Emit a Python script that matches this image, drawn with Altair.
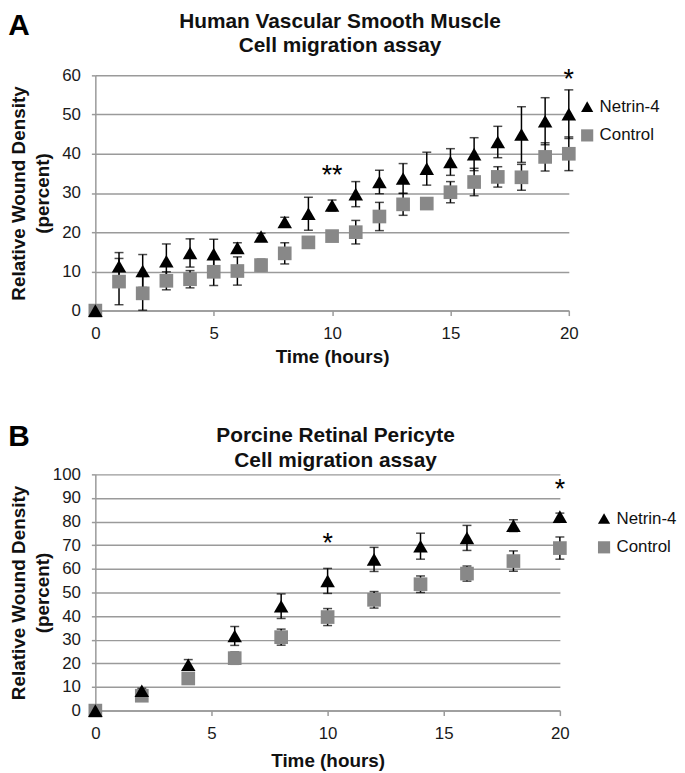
import altair as alt
import pandas as pd

# ---------------- data ----------------
series_names = ["Netrin-4", "Control"]

a_time = list(range(0, 21))
a_netrin = [0, 11.3, 10.1, 12.6, 14.7, 14.4, 16.0, 18.9, 22.6, 24.7, 26.8,
            29.7, 32.8, 33.7, 36.2, 37.9, 39.9, 43.0, 44.9, 48.3, 50.1]
a_netrin_err = [0, 3.5, 4.2, 4.4, 3.6, 3.8, 1.3, 0.8, 1.2, 4.2, 1.4,
                3.2, 3.0, 3.8, 4.2, 3.4, 4.2, 4.0, 7.1, 6.0, 6.2]
a_control = [0, 7.4, 4.4, 7.6, 8.0, 9.9, 10.1, 11.6, 14.6, 17.4, 19.0,
             20.0, 24.0, 27.1, 27.3, 30.2, 32.8, 34.1, 34.0, 39.2, 40.0]
a_control_err = [0, 5.9, 4.3, 2.3, 2.2, 3.5, 3.6, 1.5, 2.7, 0.5, 0.5,
                 3.0, 3.6, 2.8, 1.0, 2.7, 3.5, 2.6, 3.3, 3.6, 4.3]

b_time = [0, 2, 4, 6, 8, 10, 12, 14, 16, 18, 20]
b_netrin = [0, 8.4, 19.4, 31.6, 44.2, 54.9, 64.0, 69.6, 73.1, 78.3, 82.1]
b_netrin_err = [0, 1.0, 2.2, 4.0, 5.2, 5.3, 5.1, 5.5, 5.3, 2.5, 1.5]
b_control = [0, 6.3, 13.6, 22.2, 31.1, 39.6, 46.9, 53.5, 58.0, 63.3, 68.8]
b_control_err = [0, 0.8, 0.8, 2.6, 3.4, 3.6, 3.5, 3.5, 3.2, 4.3, 4.7]

a_stars_time = [10, 20]
a_stars_y = [35.2, 59.7]
a_stars_text = ["**", "*"]
b_stars_time = [10, 20]
b_stars_y = [72.0, 95.0]
b_stars_text = ["*", "*"]

a_title = ["Human Vascular Smooth Muscle", "Cell migration assay"]
b_title = ["Porcine Retinal Pericyte", "Cell migration assay"]
y_title = ["Relative Wound Density", "(percent)"]
x_title = "Time (hours)"

FONT = "Liberation Sans"
GRID = "#9a9a9a"
CTRL = "#888888"


def frame(time, s1, e1, s2, e2):
    rows = []
    for t, m, e in zip(time, s1, e1):
        rows.append({"time": t, "mean": m, "err": e, "series": "Netrin-4"})
    for t, m, e in zip(time, s2, e2):
        rows.append({"time": t, "mean": m, "err": e, "series": "Control"})
    df = pd.DataFrame(rows)
    df["lo"] = df["mean"] - df["err"]
    df["hi"] = df["mean"] + df["err"]
    return df


def panel(df, stars, letter, title, ymax, w, h, lx, ly, letter_y, t1y, t2y, xtp):
    xaxis = alt.Axis(values=[0, 5, 10, 15, 20], grid=False, title=x_title,
                     domainColor=GRID, domainWidth=1.5, tickColor=GRID,
                     tickWidth=1.5, tickSize=5, labelPadding=10, labelFlush=False,
                     labelFontSize=17, labelFont=FONT, labelColor="#1a1a1a",
                     titleFontSize=19, titleFont=FONT, titleFontWeight="bold",
                     titlePadding=xtp, titleColor="#111")
    xscale = alt.Scale(domain=[0, 20], nice=False)
    yaxis = alt.Axis(values=list(range(0, ymax + 1, 10)), grid=True,
                     gridColor=GRID, gridWidth=1.5, domainColor=GRID,
                     domainWidth=1.5, tickColor=GRID, tickWidth=1.5,
                     tickSize=4, labelPadding=11, labelFontSize=17,
                     labelFont=FONT, labelColor="#1a1a1a", title=y_title,
                     titleFontSize=19, titleFont=FONT, titleFontWeight="bold",
                     titleColor="#111", titleLineHeight=24, labelOverlap=False,
                     titleX=-77, titleY=h / 2, titleBaseline="middle")
    yscale = alt.Scale(domain=[0, ymax], nice=False)

    def X():
        return alt.X("time:Q", scale=xscale, axis=xaxis)

    def Y(field):
        return alt.Y(field + ":Q", scale=yscale, axis=yaxis)

    leg = alt.Legend(title=None, orient="none", legendX=lx, legendY=ly,
                     labelFontSize=17, labelFont=FONT, labelColor="#111",
                     symbolSize=150, symbolStrokeWidth=0, rowPadding=11,
                     labelOffset=4, padding=0)
    color = alt.Color("series:N", scale=alt.Scale(domain=series_names,
                                                  range=["black", CTRL]), legend=leg)
    shape = alt.Shape("series:N", scale=alt.Scale(domain=series_names,
                                                  range=["triangle-up", "square"]),
                      legend=leg)

    base = alt.Chart(df)
    net = base.transform_filter(alt.datum.series == "Netrin-4")
    ctl = base.transform_filter(alt.datum.series == "Control")

    def errs(src):
        r = src.mark_rule(color="black", strokeWidth=1.5).encode(
            x=X(), y=Y("lo"), y2="hi:Q")
        c1 = src.mark_tick(color="black", orient="horizontal", size=9,
                           thickness=1.5).encode(x=X(), y=Y("hi"))
        c2 = src.mark_tick(color="black", orient="horizontal", size=9,
                           thickness=1.5).encode(x=X(), y=Y("lo"))
        return r + c1 + c2

    def pts(src, size):
        return src.mark_point(filled=True, opacity=1, size=size, strokeWidth=0).encode(
            x=X(), y=Y("mean"), color=color, shape=shape)

    star = alt.Chart(stars).mark_text(fontSize=27, font=FONT, color="black",
                                      baseline="alphabetic", dy=12).encode(
        x=X(), y=Y("y"), text="text:N")

    one = pd.DataFrame({"k": [0]})
    lab = alt.Chart(one).mark_text(
        fontSize=30, fontWeight="bold", font=FONT, color="black",
        align="center", baseline="middle").encode(
        text=alt.value(letter), x=alt.value(-77), y=alt.value(letter_y))
    tl1 = alt.Chart(one).mark_text(
        fontSize=21, fontWeight="bold", font=FONT, color="#111",
        align="center", baseline="middle").encode(
        text=alt.value(title[0]), x=alt.value(w / 2 + 8), y=alt.value(t1y))
    tl2 = alt.Chart(one).mark_text(
        fontSize=21, fontWeight="bold", font=FONT, color="#111",
        align="center", baseline="middle").encode(
        text=alt.value(title[1]), x=alt.value(w / 2 + 8), y=alt.value(t2y))

    layer = alt.layer(
        errs(net), errs(ctl), pts(ctl, 190), pts(net, 215), star, lab, tl1, tl2
    ).properties(width=w, height=h)
    return layer


dfa = frame(a_time, a_netrin, a_netrin_err, a_control, a_control_err)
dfb = frame(b_time, b_netrin, b_netrin_err, b_control, b_control_err)
sa = pd.DataFrame({"time": a_stars_time, "y": a_stars_y, "text": a_stars_text})
sb = pd.DataFrame({"time": b_stars_time, "y": b_stars_y, "text": b_stars_text})

pa = panel(dfa, sa, "A", a_title, 60, 477, 237, 487, 23, -50, -54, -30, 6)
pb = panel(dfb, sb, "B", b_title, 100, 468, 238, 504, 36, -38, -39, -13, 10)

chart = alt.vconcat(pa, pb, spacing=56).resolve_scale(
    color="independent", shape="independent"
).resolve_legend(color="independent", shape="independent").properties(
    padding={"left": 0, "top": 0, "right": 0, "bottom": 0}
).configure_view(stroke=None)

chart.save("out.html", embed_options={"renderer": "svg", "actions": False})
